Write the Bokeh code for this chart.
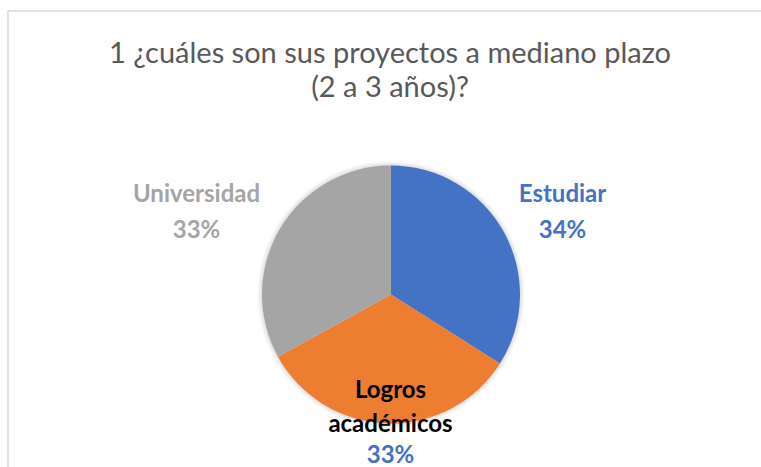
import numpy as np
from bokeh.plotting import figure
from bokeh.models import Range1d, ColumnDataSource
from bokeh.core.properties import value
from bokeh.embed import file_html
from bokeh.resources import INLINE

# ---- data ----
categories = ["Estudiar", "Logros académicos", "Universidad"]
percents = [34, 33, 33]
colors = ["#4472C4", "#ED7D31", "#A5A5A5"]
label_colors = ["#4472C4", "#000000", "#A5A5A5"]
pct_colors = ["#4472C4", "#4472C4", "#A5A5A5"]
title_lines = ["1 ¿cuáles son sus proyectos a mediano plazo", "(2 a 3 años)?"]

W, H = 761, 467
TXT_SHIFT = 10  # compensate renderer's text baseline offset

def Y(py):
    return H - py

def TY(py):
    return H - py + TXT_SHIFT

def X(px):
    return px

p = figure(width=W, height=H, output_backend="svg", toolbar_location=None,
           x_range=Range1d(0, W), y_range=Range1d(0, H), min_border=0)
p.axis.visible = False
p.grid.visible = False
p.outline_line_color = None
p.background_fill_color = "white"
p.border_fill_color = "white"

# chart area border (top and left edges visible)
p.line([X(7.5), X(7.5), W], [0, Y(10.5), Y(10.5)], line_color="#D9D9D9", line_width=1.5)

# pie
cx, cy, r = X(390.5), Y(294), 129
vals = np.array(percents, dtype=float)
fr = vals / vals.sum()
ends = np.cumsum(fr) * 2 * np.pi
starts = np.concatenate([[0], ends[:-1]])
# clockwise from 12 o'clock
start_ang = np.pi / 2 - ends
end_ang = np.pi / 2 - starts

# soft shadow
for k, a in [(5, 0.03), (4, 0.04), (3, 0.05), (2, 0.06), (1, 0.08)]:
    p.scatter([cx], [cy], size=2 * (r + k), marker="circle", fill_color="#808080",
              fill_alpha=a, line_color=None)

src = ColumnDataSource(dict(start=start_ang, end=end_ang, color=colors))
p.wedge(x=cx, y=cy, radius=r, radius_units="screen", start_angle="start", end_angle="end",
        fill_color="color", line_color=None, source=src)

# title
p.text(x=[X(389.5)] * 2, y=[TY(61), TY(95)], text=title_lines, text_align="center",
       text_baseline="alphabetic", text_font=value("Lato"), text_font_size="29px",
       text_color="#595959")

# data labels
name_lines = [["Estudiar"], ["Logros", "académicos"], ["Universidad"]]
label_x = [X(562), X(390), X(196)]
label_y = [[TY(202)], [TY(398), TY(432)], [TY(202)]]
pct_y = [TY(238), TY(463), TY(238)]
for i in range(3):
    p.text(x=[label_x[i]] * len(name_lines[i]), y=label_y[i], text=name_lines[i],
           text_align="center", text_baseline="alphabetic", text_font=value("Lato"),
           text_font_style="bold", text_font_size="24px", text_color=label_colors[i])
    p.text(x=[label_x[i]], y=[pct_y[i]], text=[f"{percents[i]}%"],
           text_align="center", text_baseline="alphabetic", text_font=value("Lato"),
           text_font_style="bold", text_font_size="24px", text_color=pct_colors[i])

open("out.html", "w").write(file_html(p, INLINE))
